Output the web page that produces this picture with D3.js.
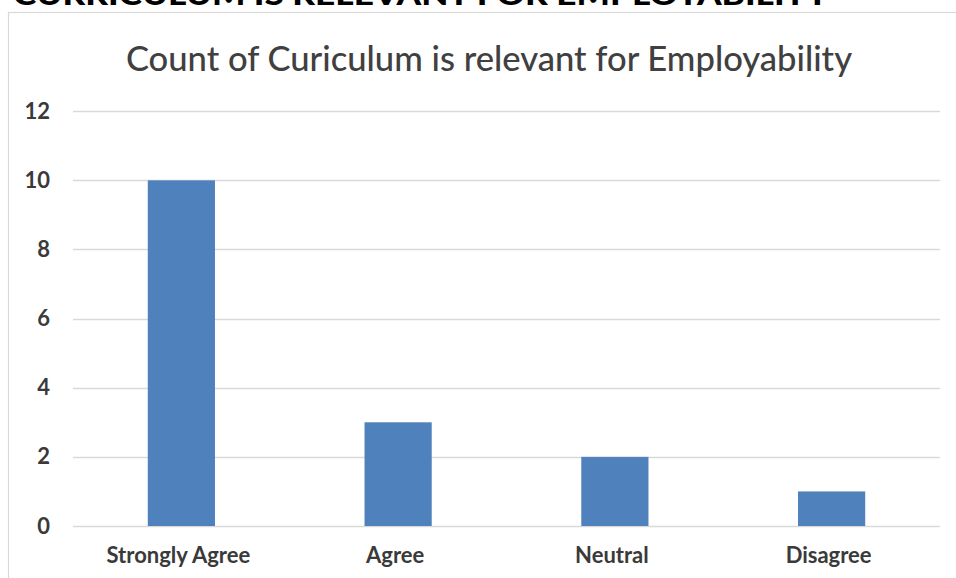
<!DOCTYPE html>
<html>
<head>
<meta charset="utf-8">
<script src="https://cdn.jsdelivr.net/npm/d3@7"></script>
<style>
  html, body { margin: 0; padding: 0; background: #fff; }
  svg { display: block; }
</style>
</head>
<body>
<svg id="chart" width="956" height="578"></svg>
<script>
const heading = "CURRICULUM IS RELEVANT FOR EMPLOYABILITY";
const chartTitle = "Count of Curiculum is relevant for Employability";
const categories = ["Strongly Agree", "Agree", "Neutral", "Disagree"];
const counts = [10, 3, 2, 1];
const yTickValues = [0, 2, 4, 6, 8, 10, 12];

const svg = d3.select("#chart");
const W = 956, H = 578;
const FONT = "Lato, 'Liberation Sans', sans-serif";

// heading above the chart frame (mostly cut off at the top, as in the source)
svg.append("text")
  .attr("x", 13).attr("y", 5)
  .attr("font-family", FONT)
  .attr("font-weight", 900)
  .attr("font-size", 28)
  .attr("fill", "#000")
  .attr("textLength", 816)
  .attr("lengthAdjust", "spacingAndGlyphs")
  .text(heading);

// chart frame
svg.append("rect")
  .attr("x", 8.5).attr("y", 12.5)
  .attr("width", 1000).attr("height", 700)
  .attr("fill", "#fff")
  .attr("stroke", "#d9d9d9").attr("stroke-width", 1.2);

const plot = { left: 73, right: 940, top: 111.2, bottom: 526 };

const x = d3.scaleBand()
  .domain(categories)
  .range([plot.left, plot.right])
  .paddingInner(0.69)
  .paddingOuter(0.345);

const y = d3.scaleLinear()
  .domain([0, 12])
  .range([plot.bottom, plot.top]);

// gridlines
svg.append("g")
  .selectAll("line")
  .data(yTickValues)
  .join("line")
  .attr("x1", plot.left).attr("x2", plot.right)
  .attr("y1", d => Math.round(y(d)) + 0.5)
  .attr("y2", d => Math.round(y(d)) + 0.5)
  .attr("stroke", "#d9d9d9")
  .attr("stroke-width", 1.5);

// bars
svg.append("g")
  .selectAll("rect")
  .data(categories.map((c, i) => ({ c, v: counts[i] })))
  .join("rect")
  .attr("x", d => x(d.c))
  .attr("width", x.bandwidth())
  .attr("y", d => y(d.v))
  .attr("height", d => y(0) - y(d.v))
  .attr("fill", "#4F81BD");

// y axis
const yAxis = svg.append("g")
  .attr("transform", `translate(${plot.left - 23},0)`)
  .call(d3.axisLeft(y).tickValues(yTickValues).tickSize(0).tickPadding(0).tickFormat(d3.format("d")));
yAxis.select(".domain").remove();
yAxis.selectAll("text")
  .attr("font-family", FONT)
  .attr("font-weight", 700)
  .attr("font-size", 22)
  .attr("fill", "#3a3a3a");

// x axis
const xAxis = svg.append("g")
  .attr("transform", `translate(0,${plot.bottom})`)
  .call(d3.axisBottom(x).tickSize(0).tickPadding(0));
xAxis.select(".domain").remove();
xAxis.selectAll("text")
  .attr("dy", null)
  .attr("y", 37)
  .attr("dx", -3)
  .attr("font-family", FONT)
  .attr("font-weight", 700)
  .attr("font-size", 22)
  .attr("fill", "#3a3a3a");

// chart title
svg.append("text")
  .attr("x", 489).attr("y", 71)
  .attr("text-anchor", "middle")
  .attr("font-family", FONT)
  .attr("font-weight", 500)
  .attr("font-size", 34.6)
  .attr("fill", "#404040")
  .text(chartTitle);
</script>
</body>
</html>
